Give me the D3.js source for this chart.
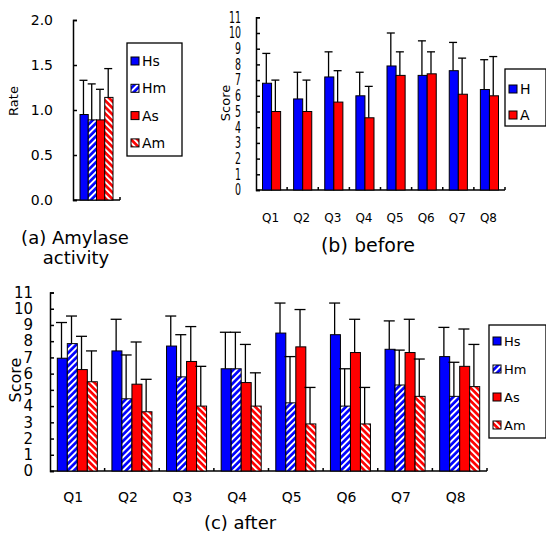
<!DOCTYPE html>
<html>
<head>
<meta charset="utf-8">
<script src="https://cdn.jsdelivr.net/npm/d3@7/dist/d3.min.js"></script>
<style>
  body { margin: 0; background: #fff; }
  svg { display: block; }
  text { font-family: "DejaVu Sans", sans-serif; fill: #000; }
</style>
</head>
<body>
<svg id="chart" width="546" height="535"></svg>
<script>
// (a) amylase activity
const amylaseSeries = ["Hs", "Hm", "As", "Am"];
const amylaseMean = [0.95, 0.89, 0.89, 1.14];
const amylaseSd = [0.38, 0.40, 0.34, 0.32];
const rateTicks = [0, 0.5, 1.0, 1.5, 2.0];

// (b) before
const questions = ["Q1", "Q2", "Q3", "Q4", "Q5", "Q6", "Q7", "Q8"];
const beforeSeries = ["H", "A"];
const beforeH = [6.8, 5.8, 7.2, 6.0, 7.9, 7.3, 7.6, 6.4];
const beforeHSd = [1.9, 1.7, 1.6, 1.5, 2.1, 2.2, 1.8, 1.9];
const beforeA = [5.0, 5.0, 5.6, 4.6, 7.3, 7.4, 6.1, 6.0];
const beforeASd = [2.0, 2.0, 2.0, 2.0, 1.5, 1.4, 2.3, 2.5];
const scoreTicks = [0, 1, 2, 3, 4, 5, 6, 7, 8, 9, 10, 11];

// (c) after
const afterSeries = ["Hs", "Hm", "As", "Am"];
const afterHs = [6.95, 7.4, 7.7, 6.3, 8.5, 8.4, 7.5, 7.05];
const afterHsSd = [2.2, 1.95, 1.85, 2.25, 1.85, 1.95, 1.75, 1.8];
const afterHm = [7.85, 4.45, 5.8, 6.3, 4.2, 4.0, 5.3, 4.6];
const afterHmSd = [1.7, 2.7, 2.6, 2.25, 2.85, 2.3, 2.15, 2.1];
const afterAs = [6.25, 5.35, 6.75, 5.45, 7.65, 7.3, 7.3, 6.45];
const afterAsSd = [2.05, 2.6, 2.15, 2.35, 2.3, 2.05, 2.05, 2.3];
const afterAm = [5.5, 3.65, 4.0, 4.0, 2.9, 2.9, 4.6, 5.2];
const afterAmSd = [1.9, 2.0, 2.45, 2.05, 2.25, 2.25, 2.3, 2.6];

const blue = "#0000ff", red = "#ff0000";

const svg = d3.select("#chart");
const defs = svg.append("defs");

function stripes(id, color, angle) {
  const p = defs.append("pattern")
      .attr("id", id)
      .attr("patternUnits", "userSpaceOnUse")
      .attr("width", 4.6).attr("height", 4.6)
      .attr("patternTransform", `rotate(${angle})`);
  p.append("rect").attr("width", 4.6).attr("height", 4.6).attr("fill", color);
  p.append("rect").attr("width", 1.9).attr("height", 4.6).attr("fill", "#fff");
}
stripes("hm", blue, 45);
stripes("am", red, -45);

const fills = { Hs: blue, Hm: "url(#hm)", As: red, Am: "url(#am)", H: blue, A: red };

// one bar panel: grouped bars with upper error bars, inward ticks
function panel(cfg) {
  const g = svg.append("g");
  const y = d3.scaleLinear().domain(cfg.yDomain).range(cfg.yRange);
  const x = d3.scaleBand().domain(cfg.categories).range(cfg.xRange);

  const yAxis = d3.axisLeft(y)
      .tickValues(cfg.ticks)
      .tickSizeInner(-4).tickSizeOuter(-4)
      .tickPadding(cfg.labelPad)
      .tickFormat(cfg.format);
  const ax = g.append("g")
      .attr("transform", `translate(${cfg.xRange[0]},0)`)
      .call(yAxis);
  ax.attr("font-family", null).attr("font-size", null);
  ax.selectAll("path, line").attr("stroke", "#000").attr("stroke-width", 1.5);
  ax.selectAll("text").attr("font-size", cfg.tickFont);
  if (cfg.squeeze) {
    ax.selectAll("text")
        .attr("transform", `scale(${cfg.squeeze},1)`)
        .attr("x", -cfg.labelPad / cfg.squeeze);
  }

  // baseline with small upward ticks at group boundaries
  g.append("line")
      .attr("x1", cfg.xRange[0]).attr("x2", cfg.xRange[1])
      .attr("y1", y(0)).attr("y2", y(0))
      .attr("stroke", "#000").attr("stroke-width", 1.5);
  g.selectAll(".xt")
    .data(cfg.categories)
    .join("line")
      .attr("x1", d => x(d) + x.bandwidth()).attr("x2", d => x(d) + x.bandwidth())
      .attr("y1", y(0)).attr("y2", y(0) - 3)
      .attr("stroke", "#000").attr("stroke-width", 1.5);

  const rows = [];
  cfg.categories.forEach((c, i) => {
    const inner = d3.scaleBand().domain(cfg.series)
        .range([x(c) + cfg.inset, x(c) + x.bandwidth() - cfg.inset]);
    cfg.series.forEach((s, j) => {
      rows.push({ s, x: inner(s), w: inner.bandwidth(), v: cfg.means[j][i], e: cfg.sds[j][i] });
    });
  });

  g.selectAll(".bar")
    .data(rows)
    .join("rect")
      .attr("x", d => d.x).attr("width", d => d.w)
      .attr("y", d => y(d.v)).attr("height", d => y(0) - y(d.v))
      .attr("fill", d => fills[d.s])
      .attr("stroke", "#000").attr("stroke-width", 1);

  // error line sits a bit left of bar centre, like the original
  const ex = d => d.x + d.w * 0.42;
  const eb = g.selectAll(".err").data(rows).join("g").attr("stroke", "#000").attr("stroke-width", 1.3);
  eb.append("line")
      .attr("x1", ex).attr("x2", ex)
      .attr("y1", d => y(d.v)).attr("y2", d => y(d.v + d.e));
  eb.append("line")
      .attr("x1", d => ex(d) - cfg.cap / 2).attr("x2", d => ex(d) + cfg.cap / 2)
      .attr("y1", d => y(d.v + d.e)).attr("y2", d => y(d.v + d.e));

  if (cfg.showLabels) {
    g.selectAll(".ql")
      .data(cfg.categories)
      .join("text")
        .attr("x", d => x(d) + x.bandwidth() / 2 + cfg.labelShift)
        .attr("y", cfg.labelY)
        .attr("text-anchor", "middle")
        .attr("font-size", cfg.labelFont)
        .text(d => d);
  }

  // rotated y label
  g.append("text")
      .attr("transform", `translate(${cfg.yTitle[0]},${cfg.yTitle[1]}) rotate(-90)`)
      .attr("text-anchor", "middle")
      .attr("dy", "0.35em")
      .attr("font-size", cfg.yTitleFont)
      .text(cfg.yTitleText);
  return g;
}

function legend(box, names, rowY, font) {
  const g = svg.append("g");
  g.append("rect")
      .attr("x", box[0]).attr("y", box[1]).attr("width", box[2]).attr("height", box[3])
      .attr("fill", "#fff").attr("stroke", "#000").attr("stroke-width", 1.3);
  names.forEach((n, i) => {
    const cy = rowY[0] + i * rowY[1];
    g.append("rect")
        .attr("x", box[0] + 4).attr("y", cy - 4).attr("width", 8).attr("height", 8)
        .attr("fill", fills[n]).attr("stroke", "#000").attr("stroke-width", 1);
    g.append("text")
        .attr("x", box[0] + 15).attr("y", cy).attr("dy", "0.36em")
        .attr("font-size", font)
        .text(n);
  });
}

// (a)
panel({
  categories: ["a"], series: amylaseSeries,
  means: amylaseMean.map(v => [v]), sds: amylaseSd.map(v => [v]),
  yDomain: [0, 2], yRange: [200, 20], xRange: [73, 120], inset: 7,
  ticks: rateTicks, format: d3.format(".1f"), labelPad: 20, tickFont: 14,
  cap: 8, showLabels: false,
  yTitle: [13, 101], yTitleFont: 13, yTitleText: "Rate"
});
legend([127, 43, 55, 113], amylaseSeries, [61, 27.3], 14);
svg.append("text").attr("x", 75).attr("y", 244).attr("text-anchor", "middle")
    .attr("font-size", 18).text("(a) Amylase");
svg.append("text").attr("x", 76).attr("y", 264).attr("text-anchor", "middle")
    .attr("font-size", 18).text("activity");

// (b)
panel({
  categories: questions, series: beforeSeries,
  means: [beforeH, beforeA], sds: [beforeHSd, beforeASd],
  yDomain: [0, 11], yRange: [190, 17.3], xRange: [256, 505], inset: 6.5,
  ticks: scoreTicks, format: d3.format("d"), labelPad: 15, tickFont: 15, squeeze: 0.63,
  cap: 8, showLabels: true, labelY: 222, labelFont: 12, labelShift: -1,
  yTitle: [225, 103], yTitleFont: 13, yTitleText: "Score"
});
legend([505, 69, 41, 57], beforeSeries, [89, 26], 14);
svg.append("text").attr("x", 368).attr("y", 252).attr("text-anchor", "middle")
    .attr("font-size", 19).text("(b) before");

// (c)
panel({
  categories: questions, series: afterSeries,
  means: [afterHs, afterHm, afterAs, afterAm], sds: [afterHsSd, afterHmSd, afterAsSd, afterAmSd],
  yDomain: [0, 11], yRange: [471, 292.5], xRange: [50, 487], inset: 7.3,
  ticks: scoreTicks, format: d3.format("d"), labelPad: 17, tickFont: 15,
  cap: 11, showLabels: true, labelY: 502, labelFont: 14, labelShift: -4,
  yTitle: [15, 380], yTitleFont: 16, yTitleText: "Score"
});
legend([489, 325, 57, 113], afterSeries, [341, 28], 13);
svg.append("text").attr("x", 240).attr("y", 529).attr("text-anchor", "middle")
    .attr("font-size", 18).text("(c) after");
</script>
</body>
</html>
